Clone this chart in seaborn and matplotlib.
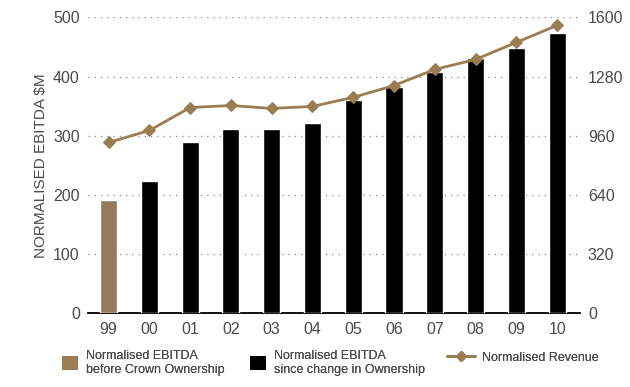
import numpy as np
import pandas as pd
import seaborn as sns
import matplotlib.pyplot as plt
from matplotlib.patches import Patch
from matplotlib.lines import Line2D

years = ['99', '00', '01', '02', '03', '04', '05', '06', '07', '08', '09', '10']
ebitda = [191, 223, 290, 312, 312, 321, 360, 383, 407, 432, 449, 474]
owner = ['before'] + ['since'] * 11
revenue = [924, 989, 1113, 1124, 1108, 1119, 1168, 1232, 1319, 1373, 1465, 1557]

gold = '#9a7d52'
grey_txt = '#4a4a4a'

df = pd.DataFrame({'year': years, 'ebitda': ebitda, 'owner': owner, 'revenue': revenue})
df['pos'] = np.arange(len(df))

sns.set_style('white')
plt.rcParams['font.family'] = ['Liberation Sans', 'DejaVu Sans']

fig, ax = plt.subplots(figsize=(6.3, 3.87), dpi=100)
fig.subplots_adjust(left=0.14, right=0.92, top=0.955, bottom=0.19)

sns.barplot(data=df, x='year', y='ebitda', hue='owner', dodge=False, width=0.42,
            palette={'before': gold, 'since': 'black'}, legend=False, ax=ax, zorder=3)
ax.set_ylim(0, 500)
ax.set_yticks([0, 100, 200, 300, 400, 500])
ax.set_xlim(-0.5, len(years) - 0.45)
ax.grid(axis='y', color='#888888', linestyle=(0, (1, 4)), linewidth=0.9, zorder=0)
ax.set_xlabel('')
ax.set_ylabel('NORMALISED EBITDA $M', fontsize=11, color=grey_txt, labelpad=4)
ax.tick_params(axis='both', length=0, labelsize=11.5, labelcolor=grey_txt, pad=6)
for s in ['top', 'right', 'left']:
    ax.spines[s].set_visible(False)
ax.spines['bottom'].set_color('black')
ax.spines['bottom'].set_linewidth(1.3)

ax2 = ax.twinx()
sns.lineplot(data=df, x='pos', y='revenue', color=gold, marker='D', markersize=6,
             markeredgecolor=gold, linewidth=2, ax=ax2, zorder=4)
ax2.set_ylim(0, 1600)
ax2.set_yticks([0, 320, 640, 960, 1280, 1600])
ax2.set_ylabel('')
ax2.tick_params(axis='y', length=0, labelsize=11.5, labelcolor=grey_txt, pad=6)
for s in ax2.spines.values():
    s.set_visible(False)

entries = [
    (Patch(facecolor=gold, edgecolor='none'), 'Normalised EBITDA\nbefore Crown Ownership', 52),
    (Patch(facecolor='black', edgecolor='none'), 'Normalised EBITDA\nsince change in Ownership', 240),
    (Line2D([], [], color=gold, marker='D', markersize=5, linewidth=2), 'Normalised Revenue', 437),
]
for h, lab, xpix in entries:
    leg = fig.legend([h], [lab], loc='upper left', bbox_to_anchor=(xpix / 630, 1 - 340 / 387),
                     frameon=False, labelcolor=grey_txt, handlelength=1.3 if isinstance(h, Patch) else 2.2,
                     handleheight=1.3, handletextpad=0.6, borderpad=0.3,
                     prop={'size': 9})
    fig.add_artist(leg)

fig.savefig('out.png', dpi=100)
